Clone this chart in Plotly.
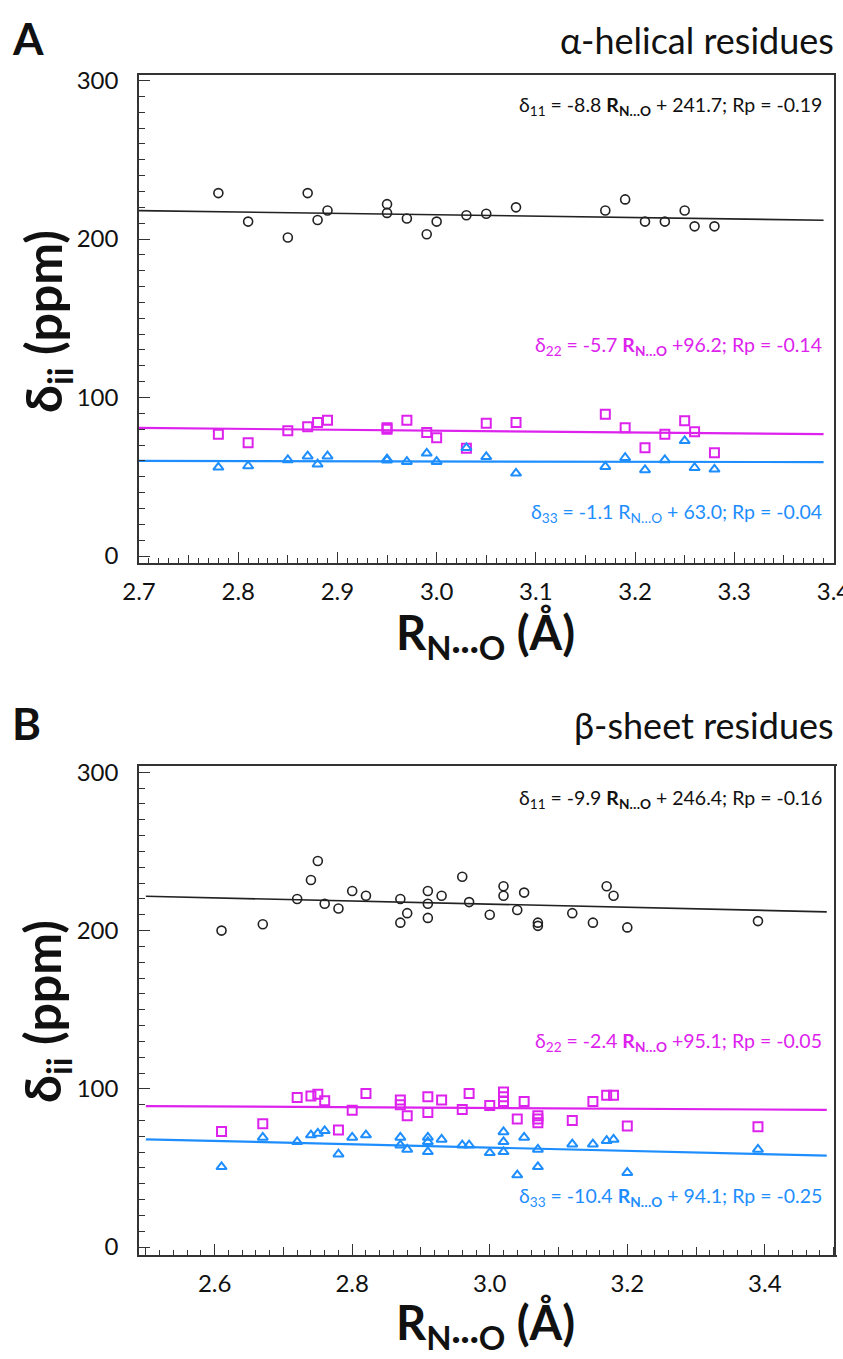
import numpy as np
import plotly.graph_objects as go

# ---------------- data ----------------
# Panel A: alpha-helical residues (same residues for the three tensor components)
a_r = [2.78, 2.81, 2.85, 2.87, 2.88, 2.89, 2.95, 2.95, 2.97, 2.99, 3.00,
       3.03, 3.05, 3.08, 3.17, 3.19, 3.21, 3.23, 3.25, 3.26, 3.28]
a_d11 = [229, 211, 201, 229, 212, 218, 222, 216.5, 213, 203, 211,
         215, 216, 220, 218, 225, 211, 211, 218, 208, 208]
a_d22 = [76.8, 71.5, 79, 81.6, 84.3, 85.6, 81, 80, 85.6, 78, 74.6,
         68, 83.7, 84.3, 89.4, 81, 68.3, 76.8, 85.4, 78.4, 65.2]
a_d33 = [56, 56.8, 60.6, 63, 57.9, 63, 61.2, 60.5, 59.5, 64.8, 59.5,
         68.3, 62.6, 52.2, 56.4, 62, 54.3, 60.6, 72.7, 55.7, 54.7]

# Panel B: beta-sheet residues
b_r11 = [2.61, 2.67, 2.72, 2.74, 2.75, 2.76, 2.78, 2.80, 2.82, 2.87, 2.87, 2.88,
         2.91, 2.91, 2.91, 2.93, 2.96, 2.97, 3.00, 3.02, 3.02, 3.04, 3.05, 3.07,
         3.07, 3.12, 3.15, 3.17, 3.18, 3.20, 3.39]
b_d11 = [200, 204, 220, 232, 244, 217, 214, 225, 222, 220, 205, 211,
         225, 217, 208, 222, 234, 218, 210, 228, 222, 213, 224, 205,
         203, 211, 205, 228, 222, 202, 206]
b_r22 = [2.61, 2.67, 2.72, 2.74, 2.75, 2.76, 2.78, 2.80, 2.82, 2.87, 2.87, 2.88,
         2.91, 2.91, 2.93, 2.96, 2.97, 3.00, 3.02, 3.02, 3.02, 3.04, 3.05, 3.07,
         3.07, 3.07, 3.12, 3.15, 3.17, 3.18, 3.20, 3.39]
b_d22 = [73, 78, 94.5, 95.5, 96.5, 92.5, 74, 86.5, 97, 93, 90, 83,
         95, 85, 93, 87, 97, 89.5, 98, 95, 92, 81, 92, 83,
         81, 78.5, 80, 92, 96, 96, 76.5, 76]
b_r33 = [2.61, 2.67, 2.72, 2.74, 2.75, 2.76, 2.78, 2.80, 2.82, 2.87, 2.87, 2.88,
         2.91, 2.91, 2.91, 2.93, 2.96, 2.97, 3.00, 3.02, 3.02, 3.02, 3.04, 3.05,
         3.07, 3.07, 3.12, 3.15, 3.17, 3.18, 3.20, 3.39]
b_d33 = [50.7, 69.3, 66.5, 70.8, 71.8, 73.5, 58.7, 69.3, 70.8, 69.3, 64.4, 61.7,
         69.3, 66.5, 60.2, 68, 64.4, 64.4, 59.6, 72.8, 66.5, 60.2, 45.5, 69.3,
         61.7, 50.7, 65, 65, 67.2, 68, 47, 61.7]

# linear fits (slope, intercept) as printed on the chart
a_fit = {"d11": (-8.8, 241.7), "d22": (-5.7, 96.2), "d33": (-1.1, 63.0)}
b_fit = {"d11": (-9.9, 246.4), "d22": (-2.4, 95.1), "d33": (-10.4, 94.1)}
a_xrange = [2.7, 3.4005]
b_xrange = [2.49, 3.502]

# ---------------- styling ----------------
W, H = 843, 1359
FONT = "Lato"
BLACK = "#222222"
MAG = "#DD22EE"
BLUE = "#1E8EFF"

def fx(p):
    return p / W

def fy(p):
    return 1 - p / H

fig = go.Figure()

def add_panel(xa, ya, r11, d11, r22, d22, r33, d33, fit, line_x):
    lx = np.array(line_x)
    for key, col, lw in (("d11", BLACK, 1.6), ("d22", MAG, 2.2), ("d33", BLUE, 2.2)):
        m, c = fit[key]
        fig.add_trace(go.Scatter(x=lx, y=m * lx + c, mode="lines",
                                 line=dict(color=col, width=lw),
                                 xaxis=xa, yaxis=ya, showlegend=False, hoverinfo="skip"))
    fig.add_trace(go.Scatter(x=r11, y=d11, mode="markers", xaxis=xa, yaxis=ya,
                             marker=dict(symbol="circle-open", size=9, color=BLACK,
                                         line=dict(width=1.6, color=BLACK)),
                             showlegend=False))
    fig.add_trace(go.Scatter(x=r22, y=d22, mode="markers", xaxis=xa, yaxis=ya,
                             marker=dict(symbol="square-open", size=9, color=MAG,
                                         line=dict(width=2, color=MAG)),
                             showlegend=False))
    fig.add_trace(go.Scatter(x=r33, y=d33, mode="markers", xaxis=xa, yaxis=ya,
                             marker=dict(symbol="triangle-up-open", size=9, color=BLUE,
                                         line=dict(width=2, color=BLUE)),
                             showlegend=False))

add_panel("x", "y", a_r, a_d11, a_r, a_d22, a_r, a_d33, a_fit, [2.7, 3.39])
add_panel("x2", "y2", b_r11, b_d11, b_r22, b_d22, b_r33, b_d33, b_fit, [2.5, 3.49])

tickfont = dict(family=FONT, size=24, color="#111111")

A_dom_x = [fx(139), fx(834)]
A_dom_y = [fy(563), fy(75)]
B_dom_x = [fx(139), fx(835)]
B_dom_y = [fy(1255), fy(766)]

def yaxis_cfg(dom, rng):
    return dict(domain=dom, range=rng, showline=True, linecolor="#333333", linewidth=1.5,
                mirror=True, ticks="inside", ticklen=11, tickwidth=1.3, tickcolor="#333333",
                tickmode="linear", tick0=0, dtick=100, showgrid=False, zeroline=False,
                tickfont=tickfont, automargin=False, ticklabelstandoff=14,
                minor=dict(ticks="inside", ticklen=6, tickwidth=1.2, tickcolor="#333333",
                           dtick=10, tick0=0, showgrid=False))

def xaxis_cfg(dom, rng, anchor, dtick, tick0, minor_dtick, fmt):
    return dict(domain=dom, range=rng, anchor=anchor, showline=True, linecolor="#333333",
                linewidth=1.5, mirror=True, ticks="inside", ticklen=11, tickwidth=1.3,
                tickcolor="#333333", tickmode="linear", tick0=tick0, dtick=dtick,
                tickformat=fmt, showgrid=False, zeroline=False, tickfont=tickfont,
                automargin=False, ticklabelstandoff=6, ticklabeloverflow="allow",
                minor=dict(ticks="inside", ticklen=5, tickwidth=1.1, tickcolor="#333333",
                           dtick=minor_dtick, tick0=tick0, showgrid=False))

fig.update_layout(
    template="none",
    width=W, height=H, margin=dict(l=0, r=0, t=0, b=0, pad=0), autosize=False,
    paper_bgcolor="white", plot_bgcolor="white",
    font=dict(family=FONT, color="#111111"),
    xaxis=xaxis_cfg(A_dom_x, a_xrange, "y", 0.1, 2.7, 0.01, ".1f"),
    yaxis=yaxis_cfg(A_dom_y, [-4.4, 303.5]),
    xaxis2=xaxis_cfg(B_dom_x, b_xrange, "y2", 0.2, 2.6, 0.02, ".1f"),
    yaxis2=yaxis_cfg(B_dom_y, [-5, 304]),
    # overlay axes for the medium-length ticks
    xaxis3=dict(domain=A_dom_x, range=a_xrange, anchor="y", overlaying="x", side="bottom",
                showline=False, ticks="inside", ticklen=8, tickwidth=1.2, tickcolor="#333333",
                tickmode="linear", tick0=2.75, dtick=0.1, showticklabels=False,
                showgrid=False, zeroline=False, automargin=False),
    xaxis4=dict(domain=B_dom_x, range=b_xrange, anchor="y2", overlaying="x2", side="bottom",
                showline=False, ticks="inside", ticklen=8, tickwidth=1.2, tickcolor="#333333",
                tickmode="linear", tick0=2.5, dtick=0.2, showticklabels=False,
                showgrid=False, zeroline=False, automargin=False),
)
# invisible traces so the overlay axes render
fig.add_trace(go.Scatter(x=[a_xrange[0]], y=[None], xaxis="x3", yaxis="y", showlegend=False,
                         mode="markers", hoverinfo="skip"))
fig.add_trace(go.Scatter(x=[b_xrange[0]], y=[None], xaxis="x4", yaxis="y2", showlegend=False,
                         mode="markers", hoverinfo="skip"))

ann = []
def txt(x, y, s, size, color="#111111", xanchor="center", yanchor="middle", angle=0):
    ann.append(dict(x=fx(x), y=fy(y), xref="paper", yref="paper", text=s, showarrow=False,
                    xanchor=xanchor, yanchor=yanchor, textangle=angle,
                    font=dict(family=FONT, size=size, color=color)))

RNO = "<b>R</b><sub><b>N…O</b></sub>"
RNO_plain = "R<sub>N…O</sub>"
XTITLE = "<b>R<sub>N···O</sub> (Å)</b>"
EQ = 19.5
XT = 47
YT = 50

# Panel A
txt(10, 38, "<b>A</b>", 44, xanchor="left")
txt(836, 40, "α-helical residues", 36, xanchor="right")
txt(824, 106, "δ<sub>11</sub> = -8.8 " + RNO + " + 241.7; Rp = -0.19", EQ, xanchor="right")
txt(824, 346, "δ<sub>22</sub> = -5.7 " + RNO + " +96.2; Rp = -0.14", EQ, MAG, xanchor="right")
txt(824, 513, "δ<sub>33</sub> = -1.1 " + RNO_plain + " + 63.0; Rp = -0.04", EQ, BLUE, xanchor="right")
txt(485, 636, XTITLE, XT)
txt(46, 322, "<b>δ<sub>ii</sub> (ppm)</b>", YT, angle=-90)

# Panel B
txt(10, 723, "<b>B</b>", 44, xanchor="left")
txt(836, 725, "β-sheet residues", 36, xanchor="right")
txt(824, 799, "δ<sub>11</sub> = -9.9 " + RNO + " + 246.4; Rp = -0.16", EQ, xanchor="right")
txt(824, 1042, "δ<sub>22</sub> = -2.4 " + RNO + " +95.1; Rp = -0.05", EQ, MAG, xanchor="right")
txt(824, 1197, "δ<sub>33</sub> = -10.4 " + RNO + " + 94.1; Rp = -0.25", EQ, BLUE, xanchor="right")
txt(485, 1325, XTITLE, XT)
txt(46, 1012, "<b>δ<sub>ii</sub> (ppm)</b>", YT, angle=-90)

fig.update_layout(annotations=ann)
fig.write_html("out.html", config={"displayModeBar": False},
               post_script="document.body.style.margin='0px';")
